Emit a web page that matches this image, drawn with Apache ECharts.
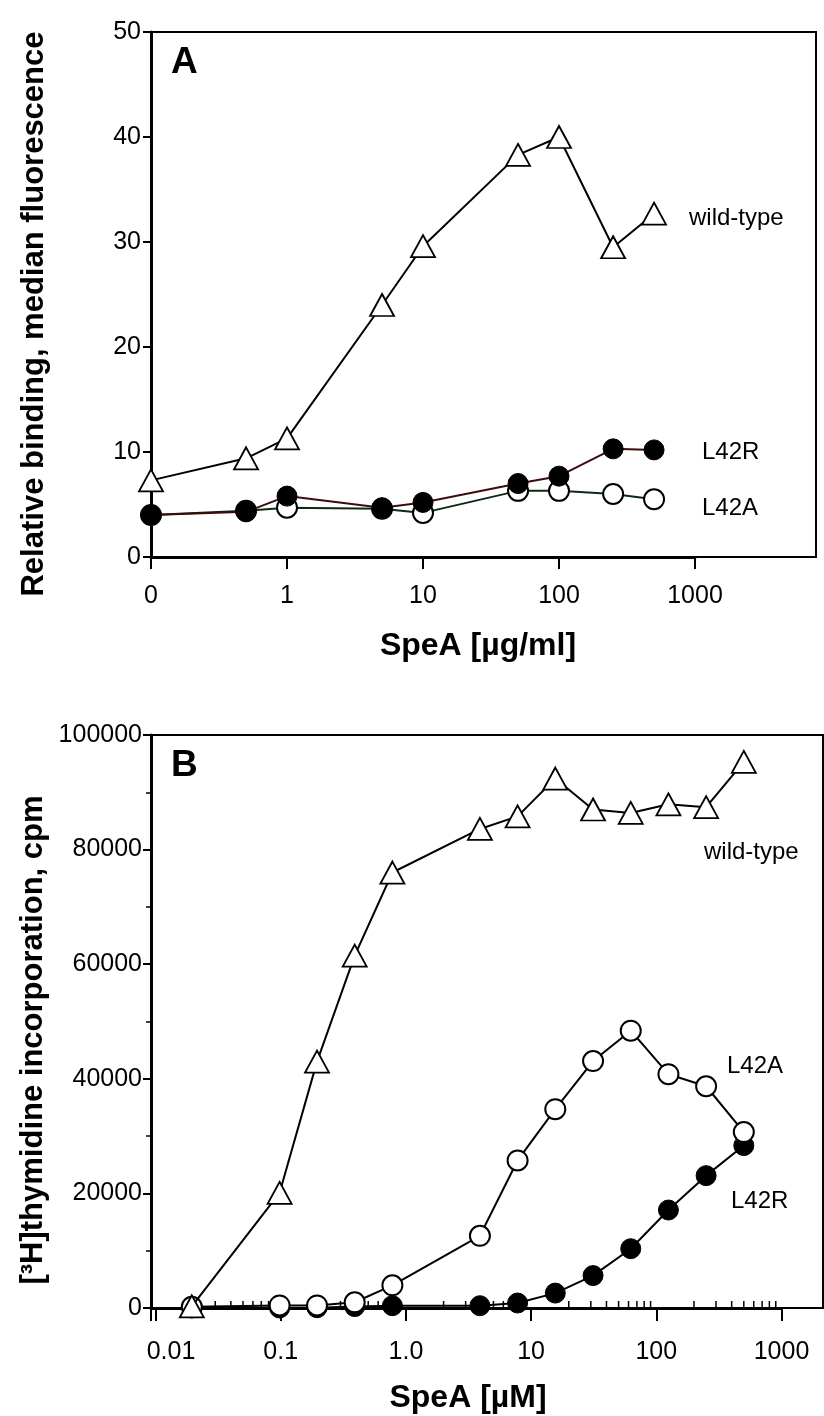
<!DOCTYPE html>
<html><head><meta charset="utf-8">
<script src="https://cdn.jsdelivr.net/npm/echarts@6/dist/echarts.min.js"></script>
<style>html,body{margin:0;padding:0;background:#fff}#c{width:824px;height:1416px}</style>
</head><body><div id="c"></div>
<script>
// ---------- Panel A : binding ----------
const concA = [0, 0.5, 1, 5, 10, 50, 100, 250, 500];   // µg/ml ; 0 is drawn at the axis origin
const zeroPlotA = 0.1;                                   // where "0" sits on the log axis
const wildA = [7.3, 9.4, 11.3, 24.0, 29.6, 38.3, 40.0, 29.5, 32.7];
const l42rA = [4.0, 4.3, 5.8, 4.7, 5.2, 7.0, 7.7, 10.3, 10.2];
const l42aA = [4.0, 4.4, 4.7, 4.6, 4.2, 6.3, 6.3, 6.0, 5.5];
const xTickLabelsA = ['0', '1', '10', '100', '1000'];
// ---------- Panel B : proliferation ----------
const concB = [0.0195, 0.098, 0.195, 0.39, 0.78, 3.9, 7.8, 15.6, 31.25, 62.5, 125, 250, 500]; // µM
const wildB = [300, 20100, 43000, 61500, 76000, 83600, 85800, 92400, 87000, 86400, 87900, 87400, 95300];
const l42aB = [200, 450, 450, 1000, 3960, 12600, 25750, 34700, 43100, 48400, 40800, 38700, 30700];
const l42rB = [0, 0, 50, 250, 400, 400, 870, 2600, 5660, 10350, 17100, 23100, 28350];
const xTickLabelsB = ['0.01', '0.1', '1.0', '10', '100', '1000'];
const minorDecadesB = [0.01, 0.1, 1, 10, 100];
const minorStepsB = [2, 3, 4, 5, 6, 7, 8, 9];

const FONT = '"Liberation Sans", Arial, Helvetica, sans-serif';
const pairs = (xs, ys) => xs.map((x, i) => [x, ys[i]]);
const aPairs = ys => concA.map((c, i) => [c === 0 ? zeroPlotA : c, ys[i]]);
const minorB = [];
minorDecadesB.forEach(d => minorStepsB.forEach(s => minorB.push([d * s, 0])));

const chart = echarts.init(document.getElementById('c'), null, {renderer: 'canvas'});

const openCircle = {symbol: 'circle', symbolSize: 20, itemStyle: {color: '#fff', borderColor: '#000', borderWidth: 2}};
const fullCircle = {symbol: 'circle', symbolSize: 20, itemStyle: {color: '#000', borderColor: '#000', borderWidth: 1}};
const triangle = {symbol: 'triangle', symbolSize: [24, 22], itemStyle: {color: '#fff', borderColor: '#000', borderWidth: 1.8}};

function lineSeries(name, x, y, data, marker, lineColor, z) {
  return Object.assign({
    type: 'line', name, xAxisIndex: x, yAxisIndex: y, data, z,
    showAllSymbol: true, animation: false, silent: true,
    lineStyle: {color: lineColor, width: 2}
  }, marker);
}

const TICK_FS = 25;
const axisLabelBase = {color: '#000', fontFamily: FONT, fontSize: TICK_FS};
const txt = (x, y, text, font, align, extra) => Object.assign({type: 'text', x, y,
  style: {text, font: font + ' ' + FONT, fill: '#000', align, verticalAlign: 'middle', textAlign: align, textVerticalAlign: 'middle'}}, extra || {});

const option = {
  animation: false,
  backgroundColor: '#fff',
  grid: [
    {left: 151, top: 32, width: 544, height: 525, containLabel: false},            // A data
    {left: 151, top: 32, width: 665, height: 525, show: true, borderColor: '#000', borderWidth: 2, backgroundColor: 'transparent'}, // A box
    {left: 151, top: 735, width: 630.5, height: 573, containLabel: false},         // B data
    {left: 151, top: 735, width: 672, height: 573, show: true, borderColor: '#000', borderWidth: 2, backgroundColor: 'transparent'}  // B box
  ],
  xAxis: [
    {type: 'log', logBase: 10, gridIndex: 0, min: 0.1, max: 1000,
      axisLine: {show: true, lineStyle: {color: '#000', width: 3}},
      axisTick: {show: true, inside: false, length: 12, lineStyle: {color: '#000', width: 2}},
      minorTick: {show: false}, splitLine: {show: false},
      axisLabel: Object.assign({}, axisLabelBase, {margin: 27,
        formatter: v => { const k = Math.log10(v); return Math.abs(k - Math.round(k)) < 1e-6 ? (xTickLabelsA[Math.round(k) + 1] || '') : ''; }})
    },
    {type: 'value', gridIndex: 1, show: false, min: 0, max: 1},
    {type: 'log', logBase: 10, gridIndex: 2, min: Math.pow(10, -2.036), max: 1000,
      axisLine: {show: true, lineStyle: {color: '#000', width: 3}},
      axisTick: {show: true, inside: false, length: 13, lineStyle: {color: '#000', width: 2}},
      minorTick: {show: false}, splitLine: {show: false},
      axisLabel: Object.assign({}, axisLabelBase, {margin: 32,
        rich: {first: {fontFamily: FONT, fontSize: TICK_FS, color: '#000', padding: [0, 0, 0, 31]}},
        formatter: v => { const k = Math.log10(v); if (Math.abs(k - Math.round(k)) > 1e-6) return '';
          const idx = Math.round(k) + 2; if (idx === 0) return '{first|' + xTickLabelsB[0] + '}'; return xTickLabelsB[idx] || ''; }})
    },
    {type: 'value', gridIndex: 3, show: false, min: 0, max: 1}
  ],
  yAxis: [
    {type: 'value', gridIndex: 0, min: 0, max: 50, interval: 10,
      axisLine: {show: true, lineStyle: {color: '#000', width: 3}},
      axisTick: {show: true, inside: false, length: 8, lineStyle: {color: '#000', width: 2}},
      splitLine: {show: false},
      axisLabel: Object.assign({}, axisLabelBase, {margin: 10, formatter: v => String(v)})
    },
    {type: 'value', gridIndex: 1, show: false, min: 0, max: 1},
    {type: 'value', gridIndex: 2, min: 0, max: 100000, interval: 20000,
      axisLine: {show: true, lineStyle: {color: '#000', width: 3}},
      axisTick: {show: true, inside: false, length: 8, lineStyle: {color: '#000', width: 2}},
      minorTick: {show: true, splitNumber: 2, length: 5, lineStyle: {color: '#000', width: 1.5}},
      splitLine: {show: false},
      axisLabel: Object.assign({}, axisLabelBase, {margin: 9, formatter: v => String(v)})
    },
    {type: 'value', gridIndex: 3, show: false, min: 0, max: 1}
  ],
  series: [
    lineSeries('L42A', 0, 0, aPairs(l42aA), openCircle, '#0c2a14', 3),
    lineSeries('L42R', 0, 0, aPairs(l42rA), fullCircle, '#3a0c0c', 4),
    lineSeries('wild-type', 0, 0, aPairs(wildA), triangle, '#000', 5),
    {type: 'custom', xAxisIndex: 2, yAxisIndex: 2, data: minorB, silent: true, clip: false, z: 2,
      renderItem: (params, api) => {
        const p = api.coord([api.value(0), api.value(1)]);
        return {type: 'line', shape: {x1: p[0], y1: p[1] - 1, x2: p[0], y2: p[1] - 7}, style: {stroke: '#000', lineWidth: 1.5}};
      }},
    lineSeries('L42R', 2, 2, pairs(concB, l42rB), fullCircle, '#000', 3),
    lineSeries('L42A', 2, 2, pairs(concB, l42aB), openCircle, '#000', 4),
    lineSeries('wild-type', 2, 2, pairs(concB, wildB), triangle, '#000', 5)
  ],
  graphic: [
    txt(171, 63, 'A', 'bold 37px', 'left'),
    txt(171, 766, 'B', 'bold 37px', 'left'),
    txt(689, 218, 'wild-type', '24px', 'left'),
    txt(702, 452, 'L42R', '24px', 'left'),
    txt(702, 508, 'L42A', '24px', 'left'),
    txt(704, 852, 'wild-type', '24px', 'left'),
    txt(727, 1066, 'L42A', '24px', 'left'),
    txt(731, 1201, 'L42R', '24px', 'left'),
    txt(478, 646, 'SpeA [\u00b5g/ml]', 'bold 32px', 'center'),
    txt(468, 1398, 'SpeA [\u00b5M]', 'bold 32px', 'center'),
    txt(34, 314, 'Relative binding, median fluorescence', 'bold 31px', 'center', {rotation: Math.PI / 2}),
    txt(33, 1040, '[\u00b3H]thymidine incorporation, cpm', 'bold 31px', 'center', {rotation: Math.PI / 2})
  ]
};
chart.setOption(option);
</script></body></html>
